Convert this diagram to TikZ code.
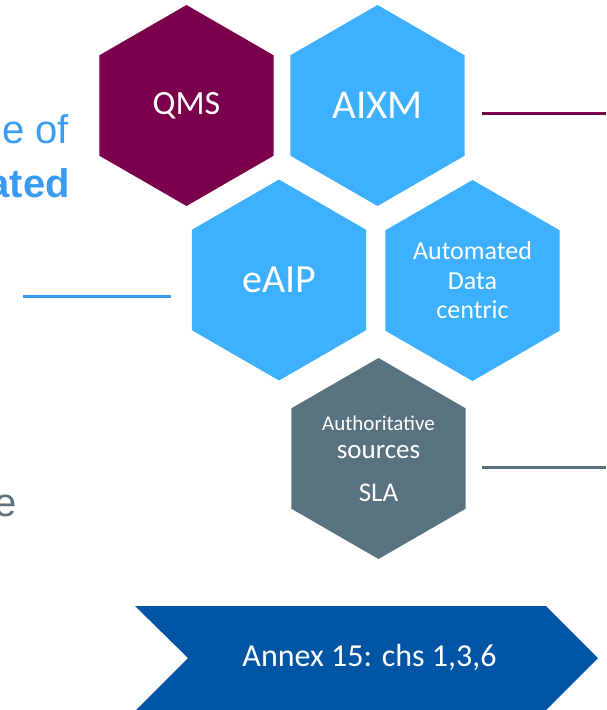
\documentclass[tikz,border=0pt]{standalone}
\usepackage{fontspec}
\setmainfont{Carlito}
\newfontfamily\arialfont{Liberation Sans}
\usetikzlibrary{shapes.geometric}
\definecolor{qmspurple}{HTML}{7A004B}
\definecolor{hexblue}{HTML}{3DB0FF}
\definecolor{hexgray}{HTML}{587280}
\definecolor{annexblue}{HTML}{0055A5}
\definecolor{textblue}{HTML}{3A9BF2}
\definecolor{textgray}{HTML}{5E6E7A}

\begin{document}
\begin{tikzpicture}[x=1pt, y=-1pt,
  hexa/.style={regular polygon, regular polygon sides=6, shape border rotate=30,
    minimum size=201pt, inner sep=0pt, outer sep=0pt, text=white, align=center},
  sidetext/.style={anchor=base east, inner sep=0pt, font=\arialfont\fontsize{40}{46}\selectfont}]
\useasboundingbox (0,0) rectangle (606,710);
\clip (0,0) rectangle (606,710);
% text running in from the left
\node[sidetext, textblue] (ofword) at (69,143) {e of};
\node[sidetext, textblue, font=\arialfont\bfseries\fontsize{40}{46}\selectfont] (atedword) at (70,197) {ated};
\node[sidetext, textgray] (eword) at (17,516) {e};
\draw[line width=3pt, textblue] (22.5,296)--(171,296);
% hexagons
\node[hexa, fill=qmspurple, font=\fontsize{34}{40}\selectfont] (qms) at (186.5,105.5) {QMS};
\node[hexa, fill=hexblue, font=\fontsize{41}{48}\selectfont] (aixm) at (377.5,105.5) {AIXM};
\node[hexa, fill=hexblue, font=\fontsize{40}{46}\selectfont] (eaip) at (279,280) {eAIP};
\node[hexa, fill=hexblue, font=\fontsize{26}{29.5}\selectfont] (autodata) at (472.5,280.5)
  {Automated\\Data\\centric};
\node[hexa, fill=hexgray, font=\fontsize{27}{28}\selectfont] (authsrc) at (378.5,458.5)
  {{\fontsize{21}{28}\selectfont Authoritative}\\sources\\[15pt]SLA};
\draw[line width=3pt, qmspurple] (482,113.5)--(606,113.5);
\draw[line width=3pt, hexgray] (482,467)--(606,467);
% annex chevron
\fill[annexblue] (135,606)--(546,606)--(598,658)--(546,710)--(136,710)--(188,658)--cycle;
\node[text=white, font=\fontsize{32}{38}\selectfont] (annex) at (369.5,657.5) {Annex 15: chs 1,3,6};
\end{tikzpicture}
\end{document}
